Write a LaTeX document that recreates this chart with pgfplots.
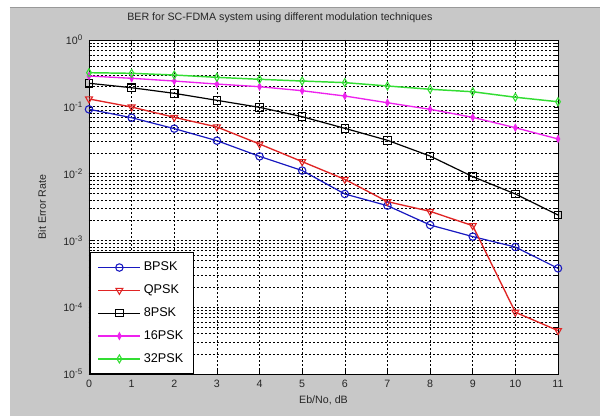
\documentclass[border=0pt]{standalone}
\usepackage{fontspec}
\setmainfont{Liberation Sans}
\usepackage{pgfplots}
\pgfplotsset{compat=1.18}

\definecolor{figgray}{HTML}{C8C8C8}
\definecolor{mblue}{HTML}{1818C0}
\definecolor{mred}{HTML}{E02424}
\definecolor{mgreen}{HTML}{33DD33}
\definecolor{mmag}{HTML}{EE22EE}

\begin{document}
\begin{tikzpicture}[x=1pt,y=1pt]
% page = 600x416 px at 0.75pt/px, axis box from px (89,40) to (558,374)
\useasboundingbox (-66.75,-31.5) rectangle (383.25,280.5);
\fill[white] (-66.75,-31.5) rectangle (383.25,280.5);
\fill[figgray] (-59.25,-31.5) rectangle (383.25,274.5);
\draw[gray!80,line width=0.8pt] (-59.25,275.1) -- (383.25,275.1);

\begin{axis}[
    at={(0,0)}, anchor=south west,
    scale only axis,
    width=351.75pt, height=250.5pt,
    ymode=log,
    xmin=0, xmax=11,
    ymin=1e-5, ymax=1,
    xtick={0,...,11},
    ytick={1e-5,1e-4,1e-3,1e-2,1e-1,1},
    yticklabels={10\textsuperscript{-5},10\textsuperscript{-4},10\textsuperscript{-3},10\textsuperscript{-2},10\textsuperscript{-1},10\textsuperscript{0}},
    /pgf/number format/assume math mode=true,
    tick align=inside,
    tick style={black, line width=0.4pt},
    major tick length=3pt, minor tick length=2pt,
    grid=both,
    major grid style={black, dash pattern=on 1.7pt off 1.3pt, line width=0.45pt},
    minor grid style={black, dash pattern=on 1.7pt off 1.3pt, line width=0.45pt},
    axis line style={black, line width=0.5pt},
    axis background/.style={fill=white},
    tick label style={font=\fontsize{8}{9.5}\selectfont, text=black!85},
    xticklabel style={yshift=-1pt},
    yticklabel style={xshift=-1pt},
    title={BER for SC-FDMA system using different modulation techniques},
    title style={at={(axis description cs:0.407,1)}, anchor=center, yshift=10.5pt, font=\fontsize{8}{9.5}\selectfont, text=black!85},
    xlabel={Eb/No, dB},
    xlabel style={at={(axis description cs:0.5,-0.078)}, anchor=center, font=\fontsize{8}{9.5}\selectfont, text=black!85},
    ylabel={Bit Error Rate},
    ylabel style={at={(axis description cs:-0.1,0.5)}, anchor=center, font=\fontsize{8}{9.5}\selectfont, text=black!85},
    legend style={
        at={(axis description cs:0,0)}, anchor=south west, xshift=0.75pt,
        draw=black, fill=white, line width=0.5pt,
        font=\fontsize{9.5}{11}\selectfont,
        row sep=5pt, inner xsep=5.5pt, inner ysep=5pt,
        legend cell align=left,
        /tikz/every even column/.append style={column sep=0pt},
    },
    legend image code/.code={
        \draw[mark repeat=2,mark phase=2] plot coordinates {(0pt,0pt) (15.75pt,0pt) (31.5pt,0pt)};
    },
]
\addplot[mblue, line width=0.9pt, mark=o, mark size=2.8pt, mark options={solid, line width=0.8pt}] coordinates {
    (0,0.0917) (1,0.0687) (2,0.0471) (3,0.0311) (4,0.0181) (5,0.0111)
    (6,0.00495) (7,0.00331) (8,0.0017) (9,0.00114) (10,0.000796) (11,0.000382)
};
\addlegendentry{BPSK}
\addplot[mred, line width=1pt, mark=triangle, mark size=3pt, mark options={solid, rotate=180, line width=0.8pt}] coordinates {
    (0,0.131) (1,0.0993) (2,0.0696) (3,0.0499) (4,0.0277) (5,0.0151)
    (6,0.0082) (7,0.0038) (8,0.00272) (9,0.00166) (10,8.4e-5) (11,4.46e-5)
};
\addlegendentry{QPSK}
\addplot[black, line width=0.9pt, mark=square, mark size=2.8pt, mark options={solid, line width=0.8pt}] coordinates {
    (0,0.225) (1,0.193) (2,0.159) (3,0.125) (4,0.098) (5,0.0711)
    (6,0.0476) (7,0.0315) (8,0.0183) (9,0.0090) (10,0.00495) (11,0.0024)
};
\addlegendentry{8PSK}
\addplot[mmag, line width=1pt, mark=diamond*, mark size=1.6pt, mark options={solid, yscale=1.4}] coordinates {
    (0,0.289) (1,0.267) (2,0.243) (3,0.219) (4,0.200) (5,0.174)
    (6,0.145) (7,0.115) (8,0.0917) (9,0.0695) (10,0.0486) (11,0.033)
};
\addlegendentry{16PSK}
\addplot[mgreen, line width=1.1pt, mark=diamond, mark size=2.4pt, mark options={solid, yscale=1.25, line width=0.8pt}] coordinates {
    (0,0.324) (1,0.317) (2,0.299) (3,0.276) (4,0.258) (5,0.243)
    (6,0.230) (7,0.205) (8,0.183) (9,0.168) (10,0.139) (11,0.119)
};
\addlegendentry{32PSK}
\end{axis}
\end{tikzpicture}
\end{document}
